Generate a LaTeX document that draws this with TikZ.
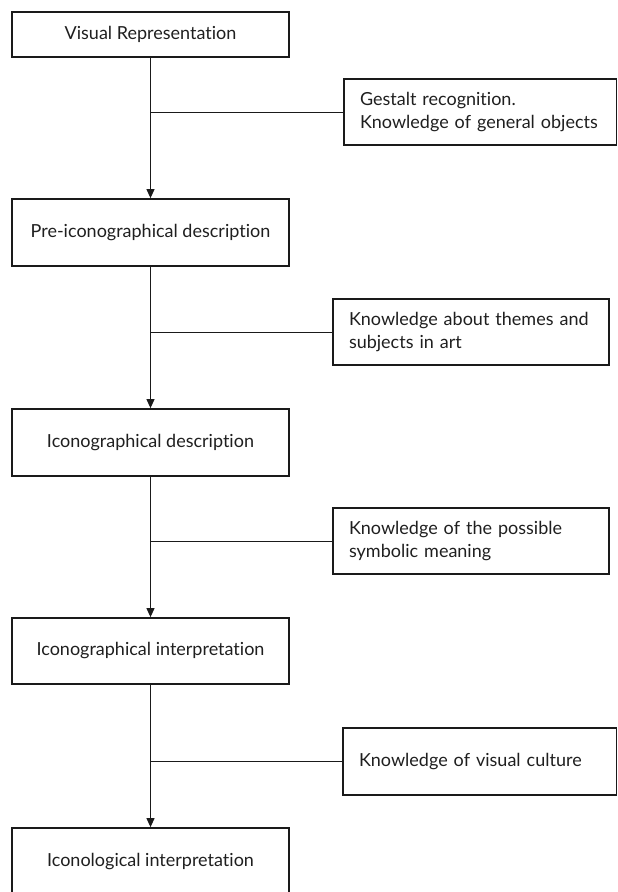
\documentclass[tikz,border=0pt]{standalone}
\usepackage{fontspec}
\setmainfont{Lato}[Ligatures={NoCommon,NoContextual}]
\usetikzlibrary{arrows.meta}
\definecolor{ink}{HTML}{1A1A1A}
\definecolor{txt}{HTML}{1F1F1F}
\begin{document}
\begin{tikzpicture}[x=1pt,y=-1pt,
  mainbox/.style={draw=ink, line width=1.7pt, minimum width=277pt, inner sep=0pt,
    font=\fontsize{18}{23}\selectfont, text=txt},
  sidebox/.style={draw=ink, line width=1.7pt, inner xsep=16pt, inner ysep=0pt, align=left,
    font=\fontsize{18}{23}\selectfont, text=txt},
  conn/.style={line width=1pt, draw=ink},
  arr/.style={conn, -{Triangle[length=9pt,width=8pt]}}]
\clip (0,0) rectangle (618,892);
\useasboundingbox (0,0) rectangle (618,892);
% main chain
\node[mainbox, minimum height=45pt] (b1) at (150.5,34.5) {Visual Representation};
\node[mainbox, minimum height=67pt] (b2) at (150.5,232.5) {Pre-iconographical description};
\node[mainbox, minimum height=67pt] (b3) at (150.5,442.5) {Iconographical description};
\node[mainbox, minimum height=66pt] (b4) at (150.5,651) {Iconographical interpretation};
\node[mainbox, minimum height=67pt] (b5) at (150.5,861.5) {Iconological interpretation};
% side boxes
\node[sidebox, text width=240.5pt, minimum height=66pt] (s1) at (480.25,112) {Gestalt recognition.\\Knowledge of general objects};
\node[sidebox, text width=244pt, minimum height=66pt] (s2) at (471,332) {Knowledge about themes and\\subjects in art};
\node[sidebox, text width=244pt, minimum height=66pt] (s3) at (471,541) {Knowledge of the possible\\symbolic meaning};
\node[sidebox, text width=241.5pt, minimum height=67pt] (s4) at (479.75,761.5) {Knowledge of visual culture};
% connectors
\draw[arr] (b1) -- (b2);
\draw[arr] (b2) -- (b3);
\draw[arr] (b3) -- (b4);
\draw[arr] (b4) -- (b5);
\draw[conn] (s1.west) -- (s1.west -| b1.south);
\draw[conn] (s2.west) -- (s2.west -| b2.south);
\draw[conn] (s3.west) -- (s3.west -| b3.south);
\draw[conn] (s4.west) -- (s4.west -| b4.south);
\end{tikzpicture}
\end{document}
